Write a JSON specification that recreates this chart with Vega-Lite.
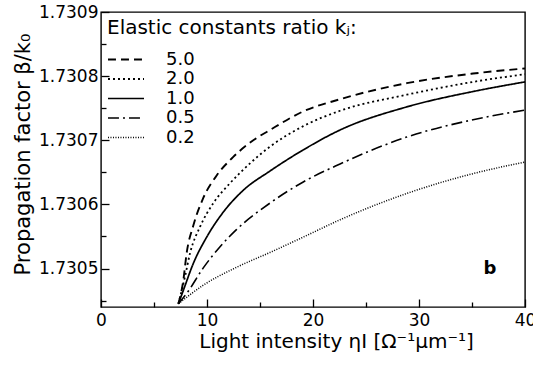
{
  "$schema": "https://vega.github.io/schema/vega-lite/v6.json",
  "width": 424,
  "height": 295,
  "autosize": {"type": "none"},
  "padding": {"left": 101, "top": 12, "right": 8, "bottom": 62},
  "background": "white",
  "config": {
    "font": "DejaVu Sans",
    "view": {"stroke": "black", "strokeWidth": 1.4},
    "axis": {
      "grid": false,
      "domain": false,
      "tickColor": "black",
      "tickWidth": 1.3,
      "labelColor": "black",
      "titleColor": "black",
      "labelFont": "DejaVu Sans",
      "titleFont": "DejaVu Sans",
      "labelFontSize": 17,
      "titleFontSize": 20,
      "titleFontWeight": "normal"
    }
  },
  "datasets": {
    "curves": [
      {"k": "5.0", "I": 7.3, "b": 1.730445},
      {"k": "5.0", "I": 7.77, "b": 1.730482},
      {"k": "5.0", "I": 8.08, "b": 1.730524},
      {"k": "5.0", "I": 8.71, "b": 1.730567},
      {"k": "5.0", "I": 9.65, "b": 1.73061},
      {"k": "5.0", "I": 10.91, "b": 1.730645},
      {"k": "5.0", "I": 12.48, "b": 1.730674},
      {"k": "5.0", "I": 14.37, "b": 1.7307},
      {"k": "5.0", "I": 15.94, "b": 1.730716},
      {"k": "5.0", "I": 19.08, "b": 1.730745},
      {"k": "5.0", "I": 22.55, "b": 1.730764},
      {"k": "5.0", "I": 28.84, "b": 1.730789},
      {"k": "5.0", "I": 35.1, "b": 1.730804},
      {"k": "5.0", "I": 40, "b": 1.730812},
      {"k": "2.0", "I": 7.3, "b": 1.730445},
      {"k": "2.0", "I": 7.92, "b": 1.730487},
      {"k": "2.0", "I": 8.4, "b": 1.730524},
      {"k": "2.0", "I": 9.34, "b": 1.730565},
      {"k": "2.0", "I": 10.6, "b": 1.730602},
      {"k": "2.0", "I": 12.17, "b": 1.730633},
      {"k": "2.0", "I": 14.06, "b": 1.730664},
      {"k": "2.0", "I": 15.94, "b": 1.73069},
      {"k": "2.0", "I": 19.08, "b": 1.730722},
      {"k": "2.0", "I": 22.55, "b": 1.730746},
      {"k": "2.0", "I": 28.84, "b": 1.730771},
      {"k": "2.0", "I": 35.1, "b": 1.730791},
      {"k": "2.0", "I": 40, "b": 1.730803},
      {"k": "1.0", "I": 7.3, "b": 1.730445},
      {"k": "1.0", "I": 7.77, "b": 1.730466},
      {"k": "1.0", "I": 8.71, "b": 1.730508},
      {"k": "1.0", "I": 9.97, "b": 1.730549},
      {"k": "1.0", "I": 11.54, "b": 1.730588},
      {"k": "1.0", "I": 13.42, "b": 1.730622},
      {"k": "1.0", "I": 15.94, "b": 1.730652},
      {"k": "1.0", "I": 19.08, "b": 1.730685},
      {"k": "1.0", "I": 22.55, "b": 1.730716},
      {"k": "1.0", "I": 28.84, "b": 1.730752},
      {"k": "1.0", "I": 35.1, "b": 1.730776},
      {"k": "1.0", "I": 40, "b": 1.730791},
      {"k": "0.5", "I": 7.3, "b": 1.730445},
      {"k": "0.5", "I": 8.08, "b": 1.730461},
      {"k": "0.5", "I": 9.65, "b": 1.730501},
      {"k": "0.5", "I": 11.23, "b": 1.730534},
      {"k": "0.5", "I": 12.8, "b": 1.730561},
      {"k": "0.5", "I": 15.94, "b": 1.730602},
      {"k": "0.5", "I": 19.08, "b": 1.730635},
      {"k": "0.5", "I": 22.55, "b": 1.730663},
      {"k": "0.5", "I": 28.84, "b": 1.730705},
      {"k": "0.5", "I": 35.1, "b": 1.730732},
      {"k": "0.5", "I": 40, "b": 1.730747},
      {"k": "0.2", "I": 7.3, "b": 1.730445},
      {"k": "0.2", "I": 9.65, "b": 1.730474},
      {"k": "0.2", "I": 12.8, "b": 1.730502},
      {"k": "0.2", "I": 15.94, "b": 1.730525},
      {"k": "0.2", "I": 19.08, "b": 1.730549},
      {"k": "0.2", "I": 22.55, "b": 1.730576},
      {"k": "0.2", "I": 28.84, "b": 1.730617},
      {"k": "0.2", "I": 35.1, "b": 1.730648},
      {"k": "0.2", "I": 40, "b": 1.730666}
    ],
    "note": [{"I": 36.7, "b": 1.7305, "label": "b"}]
  },
  "layer": [
    {
      "data": {"name": "curves"},
      "mark": {"type": "line", "color": "black", "interpolate": "monotone"},
      "encoding": {
        "x": {
          "field": "I", "type": "quantitative",
          "scale": {"domain": [0, 40], "nice": false, "zero": false},
          "axis": {
            "orient": "bottom",
            "values": [0, 10, 20, 30, 40],
            "tickSize": -8,
            "labelPadding": 13,
            "labelFlush": false,
            "labelOverlap": false,
            "title": "Light intensity ηI [Ω⁻¹μm⁻¹]",
            "titlePadding": 3,
            "titleX": 235
          }
        },
        "y": {
          "field": "b", "type": "quantitative",
          "scale": {"domain": [1.73044, 1.7309], "nice": false, "zero": false},
          "axis": {
            "orient": "left",
            "values": [1.7305, 1.7306, 1.7307, 1.7308, 1.7309],
            "format": ".4f",
            "tickSize": -8,
            "labelPadding": 11,
            "labelFlush": false,
            "labelOverlap": false,
            "title": "Propagation  factor  β/k₀",
            "titleFontSize": 21,
            "titlePadding": 5,
            "titleY": 142
          }
        },
        "strokeDash": {
          "field": "k", "type": "nominal",
          "scale": {
            "domain": ["5.0", "2.0", "1.0", "0.5", "0.2"],
            "range": [[8, 5], [2, 3], [1, 0], [11, 4, 2, 4], [1, 1.5]]
          },
          "legend": {
            "orient": "top-left",
            "offset": 6,
            "title": "Elastic constants ratio kⱼ:",
            "titleFontSize": 20,
            "titleFontWeight": "normal",
            "titleColor": "black",
            "titleLimit": 0,
            "titlePadding": 12,
            "labelFontSize": 18,
            "labelColor": "black",
            "symbolType": "stroke",
            "symbolSize": 1300,
            "symbolStrokeColor": "black",
            "symbolStrokeWidth": 1.6,
            "clipHeight": 19,
            "labelOffset": 21,
            "rowPadding": 0.5,
            "padding": 0
          }
        },
        "strokeWidth": {
          "field": "k", "type": "nominal",
          "scale": {"domain": ["5.0", "2.0", "1.0", "0.5", "0.2"], "range": [1.9, 1.5, 1.8, 1.7, 1.1]},
          "legend": null
        }
      }
    },
    {
      "data": {"name": "curves"},
      "mark": {"type": "line", "opacity": 0},
      "encoding": {
        "x": {
          "field": "I", "type": "quantitative",
          "axis": {"orient": "bottom", "values": [5, 15, 25, 35], "tickSize": -5, "labels": false, "title": null}
        },
        "y": {
          "field": "b", "type": "quantitative",
          "axis": {"orient": "left", "values": [1.73045, 1.73055, 1.73065, 1.73075, 1.73085], "tickSize": -5, "labels": false, "title": null}
        },
        "detail": {"field": "k"}
      }
    },
    {
      "data": {"name": "note"},
      "mark": {"type": "text", "fontSize": 18, "fontWeight": "bold", "color": "black"},
      "encoding": {
        "x": {"field": "I", "type": "quantitative", "axis": null},
        "y": {"field": "b", "type": "quantitative", "axis": null},
        "text": {"field": "label"}
      }
    }
  ],
  "resolve": {"axis": {"x": "independent", "y": "independent"}}
}
